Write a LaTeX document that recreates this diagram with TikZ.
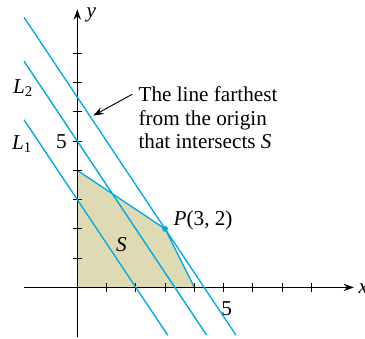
\documentclass[tikz,border=0pt]{standalone}
\usepackage{fontspec}
\setmainfont{Liberation Serif}
\usetikzlibrary{arrows.meta}
\definecolor{lpblue}{RGB}{0,168,228}
\definecolor{lptan}{RGB}{222,218,180}

\begin{document}
\begin{tikzpicture}[>={Stealth[length=5pt,width=3.6pt]}, x=0.5cm, y=0.5cm,
    font=\fontsize{10.3}{11.5}\selectfont,
    lpline/.style={lpblue, line width=0.65pt}]
  \useasboundingbox (-2.64,-1.73) rectangle (9.83,9.82);
  % feasible region S
  \coordinate (O) at (0,0);
  \coordinate (A) at (0,4);
  \coordinate (P) at (3,2);
  \coordinate (B) at (4,0);
  \fill[lptan] (O) -- (A) -- (P) -- (B) -- cycle;
  \draw[lpline] (A) -- (P) -- (B);
  % axes
  \coordinate (xl) at (-1.82,0);
  \coordinate (xr) at (9.45,0);
  \coordinate (yb) at (0,-1.7);
  \coordinate (yt) at (0,9.5);
  \draw[->, line width=0.5pt] (xl) -- (xr);
  \draw[->, line width=0.5pt] (yb) -- (yt);
  \foreach \i in {1,...,8} {
    \draw[line width=0.5pt] (\i,-0.16) -- (\i,0.16);
    \draw[line width=0.5pt] (-0.16,\i) -- (0.16,\i);
  }
  \node[anchor=west, inner sep=0] (xlab) at (9.6,-0.05) {\textit{x}};
  \node (ylab) at (0.48,9.3) {\textit{y}};
  \node (x5) at (5.1,-0.72) {5};
  \node (y5) at (-0.54,4.98) {5};
  % level lines 3x+2y=c
  \coordinate (L1a) at (-1.82,5.73);
  \coordinate (L1b) at (3.09,-1.63);
  \coordinate (L2a) at (-1.82,7.73);
  \coordinate (L2b) at (4.42,-1.63);
  \coordinate (L3a) at (-1.82,9.23);
  \coordinate (L3b) at (5.42,-1.63);
  \draw[lpline] (L1a) -- (L1b);
  \draw[lpline] (L2a) -- (L2b);
  \draw[lpline] (L3a) -- (L3b);
  \fill[lpblue] (P) circle (0.1);
  % labels
  \node (Lone) at (-1.88,4.9) {\textit{L}\textsubscript{1}};
  \node (Ltwo) at (-1.85,6.8) {\textit{L}\textsubscript{2}};
  \node (S) at (1.51,1.45) {\textit{S}};
  \node[anchor=west, inner sep=0] (Plab) at (3.28,2.28) {\textit{P}(3, 2)};
  \node[anchor=west, align=left, inner sep=0] (note) at (2.08,5.8)
    {The line farthest\\from the origin\\that intersects \textit{S}};
  \coordinate (tip) at (0.55,5.87);
  \draw[->, line width=0.45pt] ([shift={(-0.2,0.8)}]note.west) -- (tip);
\end{tikzpicture}
\end{document}
